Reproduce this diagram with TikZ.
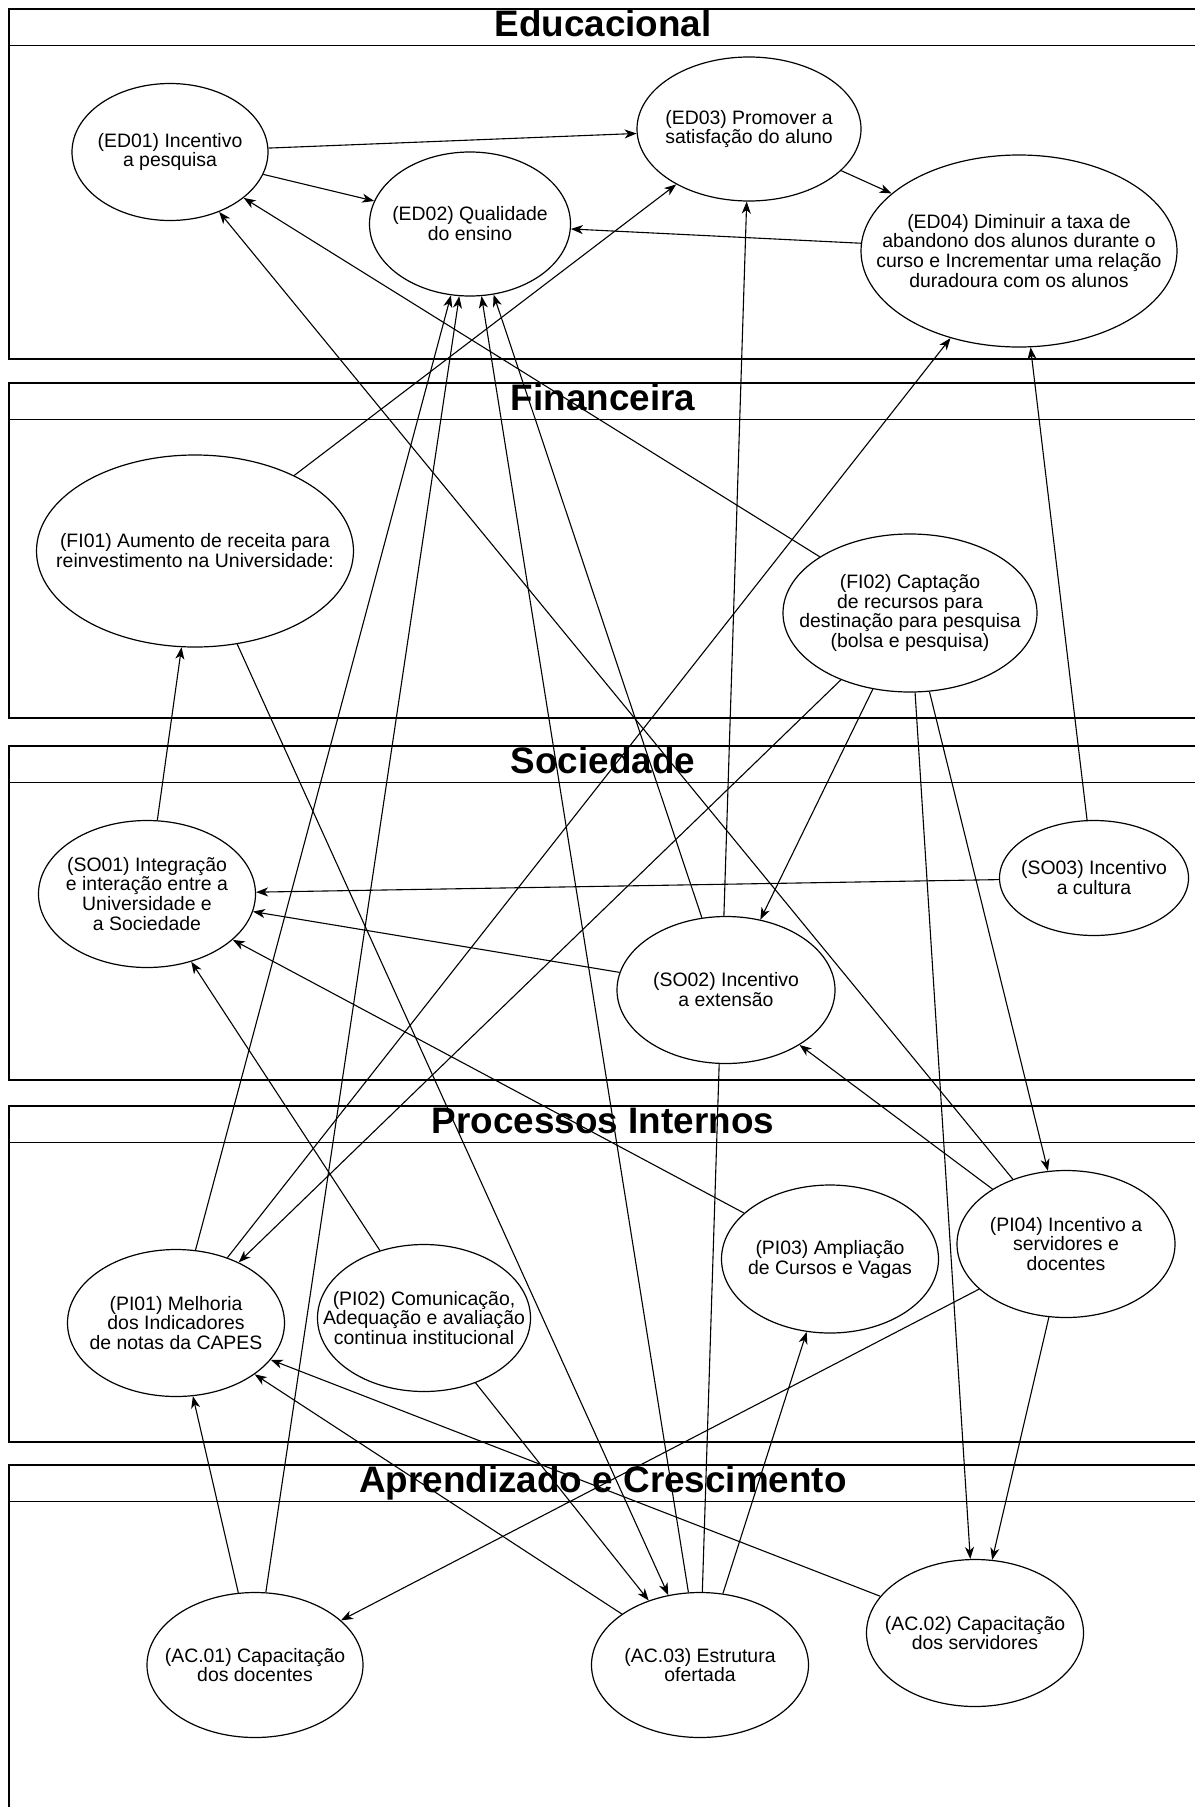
\documentclass[tikz,border=0pt]{standalone}
\usepackage{fontspec}
\setmainfont{Liberation Sans}
\usetikzlibrary{arrows.meta, shapes.geometric}
\pgfdeclarelayer{lanelayer}
\pgfdeclarelayer{edgelayer}
\pgfsetlayers{lanelayer,edgelayer,main}

\begin{document}
\begin{tikzpicture}[
  x=1bp, y=-1bp,
  lane/.style={draw, line width=1.6bp},
  lanetitle/.style={anchor=base, inner sep=0pt, font=\fontsize{37}{40}\selectfont\bfseries},
  obj/.style={draw, ellipse, fill=white, line width=1.2bp, inner sep=0pt},
  txt/.style={align=center, inner sep=0pt, font=\fontsize{19.5}{20}\selectfont},
  arrow/.style={-{Stealth[length=12bp, width=9bp, inset=3.5bp]}, line width=1.1bp}
]
\useasboundingbox (0,0) rectangle (1194,1807);

% lanes
\begin{pgfonlayer}{lanelayer}
\foreach \ya/\yb/\lname [count=\i] in {9/359/Educacional, 383/718/Financeira, 746/1080/Sociedade, 1106/1442/Processos Internos, 1465/1850/Aprendizado e Crescimento} {
  \draw[lane] (9,\ya) rectangle (1197,\yb);
  \draw[lane] (9,\ya+36.5) -- (1197,\ya+36.5);
  \node[lanetitle] (lane\i) at (603,\ya+27) {\lname};
}
\end{pgfonlayer}

% Educacional
\node[obj, minimum width=196bp, minimum height=137bp] (ed01) at (170,152) {};
\node[txt] (ed01t) at (ed01) {(ED01) Incentivo\\a pesquisa};
\node[obj, minimum width=201bp, minimum height=144bp] (ed02) at (470,224) {};
\node[txt] (ed02t) at (ed02) {(ED02) Qualidade\\do ensino};
\node[obj, minimum width=224bp, minimum height=144bp] (ed03) at (749,129) {};
\node[txt] (ed03t) at (ed03) {(ED03) Promover a\\satisfação do aluno};
\node[obj, minimum width=316bp, minimum height=192bp] (ed04) at (1019,251) {};
\node[txt] (ed04t) at (ed04) {(ED04) Diminuir a taxa de\\abandono dos alunos durante o\\curso e Incrementar uma relação\\duradoura com os alunos};

% Financeira
\node[obj, minimum width=317bp, minimum height=192bp] (fi01) at (195,551) {};
\node[txt] (fi01t) at (fi01) {(FI01) Aumento de receita para\\reinvestimento na Universidade:};
\node[obj, minimum width=254bp, minimum height=158bp] (fi02) at (910,613) {};
\node[txt] (fi02t) at (fi02) {(FI02) Captação\\de recursos para\\destinação para pesquisa\\(bolsa e pesquisa)};

% Sociedade
\node[obj, minimum width=217bp, minimum height=147bp] (so01) at (147,894) {};
\node[txt] (so01t) at (so01) {(SO01) Integração\\e interação entre a\\Universidade e\\a Sociedade};
\node[obj, minimum width=218bp, minimum height=147bp] (so02) at (726,990) {};
\node[txt] (so02t) at (so02) {(SO02) Incentivo\\a extensão};
\node[obj, minimum width=189bp, minimum height=115bp] (so03) at (1094,878) {};
\node[txt] (so03t) at (so03) {(SO03) Incentivo\\a cultura};

% Processos Internos
\node[obj, minimum width=217bp, minimum height=147bp] (pi01) at (176,1323) {};
\node[txt] (pi01t) at (pi01) {(PI01) Melhoria\\dos Indicadores\\de notas da CAPES};
\node[obj, minimum width=213bp, minimum height=147bp] (pi02) at (424,1318) {};
\node[txt] (pi02t) at (pi02) {(PI02) Comunicação,\\Adequação e avaliação\\continua institucional};
\node[obj, minimum width=217bp, minimum height=148bp] (pi03) at (830,1259) {};
\node[txt] (pi03t) at (pi03) {(PI03) Ampliação\\de Cursos e Vagas};
\node[obj, minimum width=218bp, minimum height=147bp] (pi04) at (1066,1244) {};
\node[txt] (pi04t) at (pi04) {(PI04) Incentivo a\\servidores e\\docentes};

% Aprendizado e Crescimento
\node[obj, minimum width=216bp, minimum height=145bp] (ac01) at (255,1665) {};
\node[txt] (ac01t) at (ac01) {(AC.01) Capacitação\\dos docentes};
\node[obj, minimum width=217bp, minimum height=147bp] (ac02) at (975,1633) {};
\node[txt] (ac02t) at (ac02) {(AC.02) Capacitação\\dos servidores};
\node[obj, minimum width=217bp, minimum height=145bp] (ac03) at (700,1665) {};
\node[txt] (ac03t) at (ac03) {(AC.03) Estrutura\\ofertada};

% connectors
\begin{pgfonlayer}{edgelayer}
\foreach \a/\b in {ed01/ed03, ed01/ed02, ed03/ed04, ed04/ed02,
    fi02/ed01, pi04/ed01, pi01/ed02, ac01/ed02, ac03/ed02, so02/ed02,
    fi01/ed03, ac03/ed03, pi01/ed04, so03/ed04,
    so01/fi01, fi01/ac03, fi02/so02, fi02/pi01, fi02/ac02, fi02/pi04,
    so03/so01, so02/so01, pi03/so01, pi02/so01, pi04/so02,
    ac01/pi01, ac03/pi01, ac02/pi01, pi02/ac03, pi04/ac01, ac03/pi03, pi04/ac02}
  \draw[arrow] (\a) -- (\b);
\end{pgfonlayer}
\end{tikzpicture}
\end{document}
